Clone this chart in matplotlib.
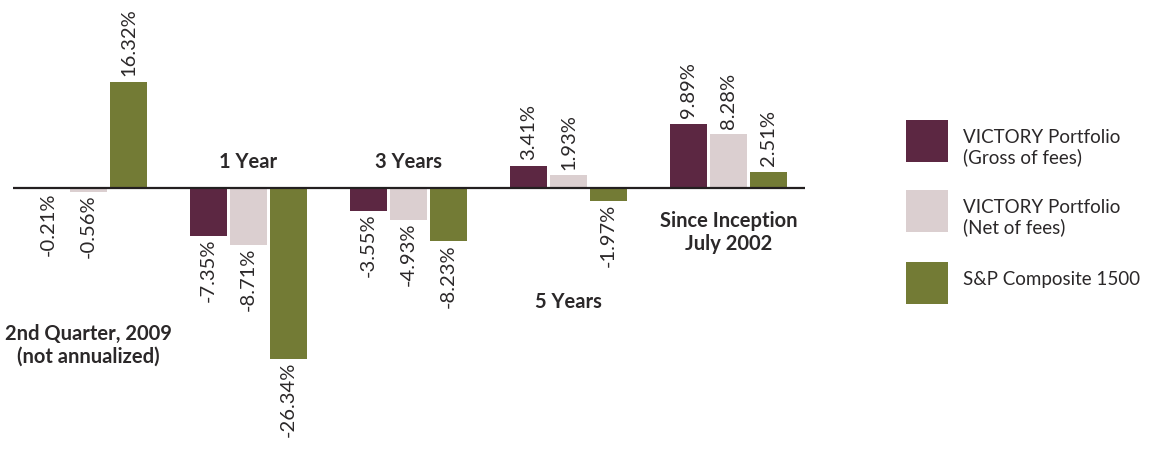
import matplotlib
matplotlib.use("Agg")
import matplotlib.pyplot as plt
from matplotlib.patches import Rectangle
import numpy as np

plt.rcParams['font.family'] = ['Lato', 'DejaVu Sans']

# Data
categories = ['2nd Quarter, 2009\n(not annualized)', '1 Year', '3 Years', '5 Years',
              'Since Inception\nJuly 2002']
series_names = ['VICTORY Portfolio\n(Gross of fees)', 'VICTORY Portfolio\n(Net of fees)',
                'S&P Composite 1500']
gross = [-0.21, -7.35, -3.55, 3.41, 9.89]
net = [-0.56, -8.71, -4.93, 1.93, 8.28]
sp1500 = [16.32, -26.34, -8.23, -1.97, 2.51]

colors = ['#5c2742', '#dbcfd0', '#737b35']
text_color = '#2b2829'

W, H = 1165, 449
fig = plt.figure(figsize=(W / 100, H / 100), dpi=100)

# Axes placed so the zero line runs from x=13 to x=805 px
ax = fig.add_axes([13 / W, 0, (805 - 13) / W, 1])
ax.set_xlim(-0.472, 4.478)
ax.set_ylim(-261 / 6.5, 188 / 6.5)
ax.axis('off')

x = np.arange(len(categories))
width = 0.231
for k, (vals, c) in enumerate(zip([gross, net, sp1500], colors)):
    pos = x + (k - 1) * 0.25
    ax.bar(pos, vals, width=width, color=c, linewidth=0, zorder=2)
    for xp, v in zip(pos, vals):
        if v >= 0:
            ax.annotate(f'{v:.2f}%', (xp, v), xytext=(0, 4), textcoords='offset points',
                        rotation=90, ha='center', va='bottom', fontsize=14.5,
                        color=text_color)
        else:
            ax.annotate(f'{v:.2f}%', (xp, v), xytext=(0, -2), textcoords='offset points',
                        rotation=90, ha='center', va='top', fontsize=14.5,
                        color=text_color)

ax.axhline(0, color='#231f20', linewidth=1.6, zorder=3)

# category labels at scattered spots, like the original
label_pos = [(0, -24.2), (1, 4.0), (2, 4.0), (3, -17.5), (4, -6.8)]
for name, (cx, cy) in zip(categories, label_pos):
    ax.text(cx, cy, name, ha='center', va='center', fontsize=14.5,
            fontweight='bold', color=text_color, linespacing=1.2)

# legend drawn by hand in pixel coords
lax = fig.add_axes([0, 0, 1, 1])
lax.set_xlim(0, W)
lax.set_ylim(H, 0)
lax.axis('off')
sq_tops = [120, 190, 262]
for name, c, top in zip(series_names, colors, sq_tops):
    lax.add_patch(Rectangle((906, top), 42, 42, color=c, linewidth=0))
    lax.text(963, top + 9, name, ha='left', va='top', fontsize=13.5,
             color=text_color, linespacing=1.15)

fig.savefig('out.png', dpi=100)
